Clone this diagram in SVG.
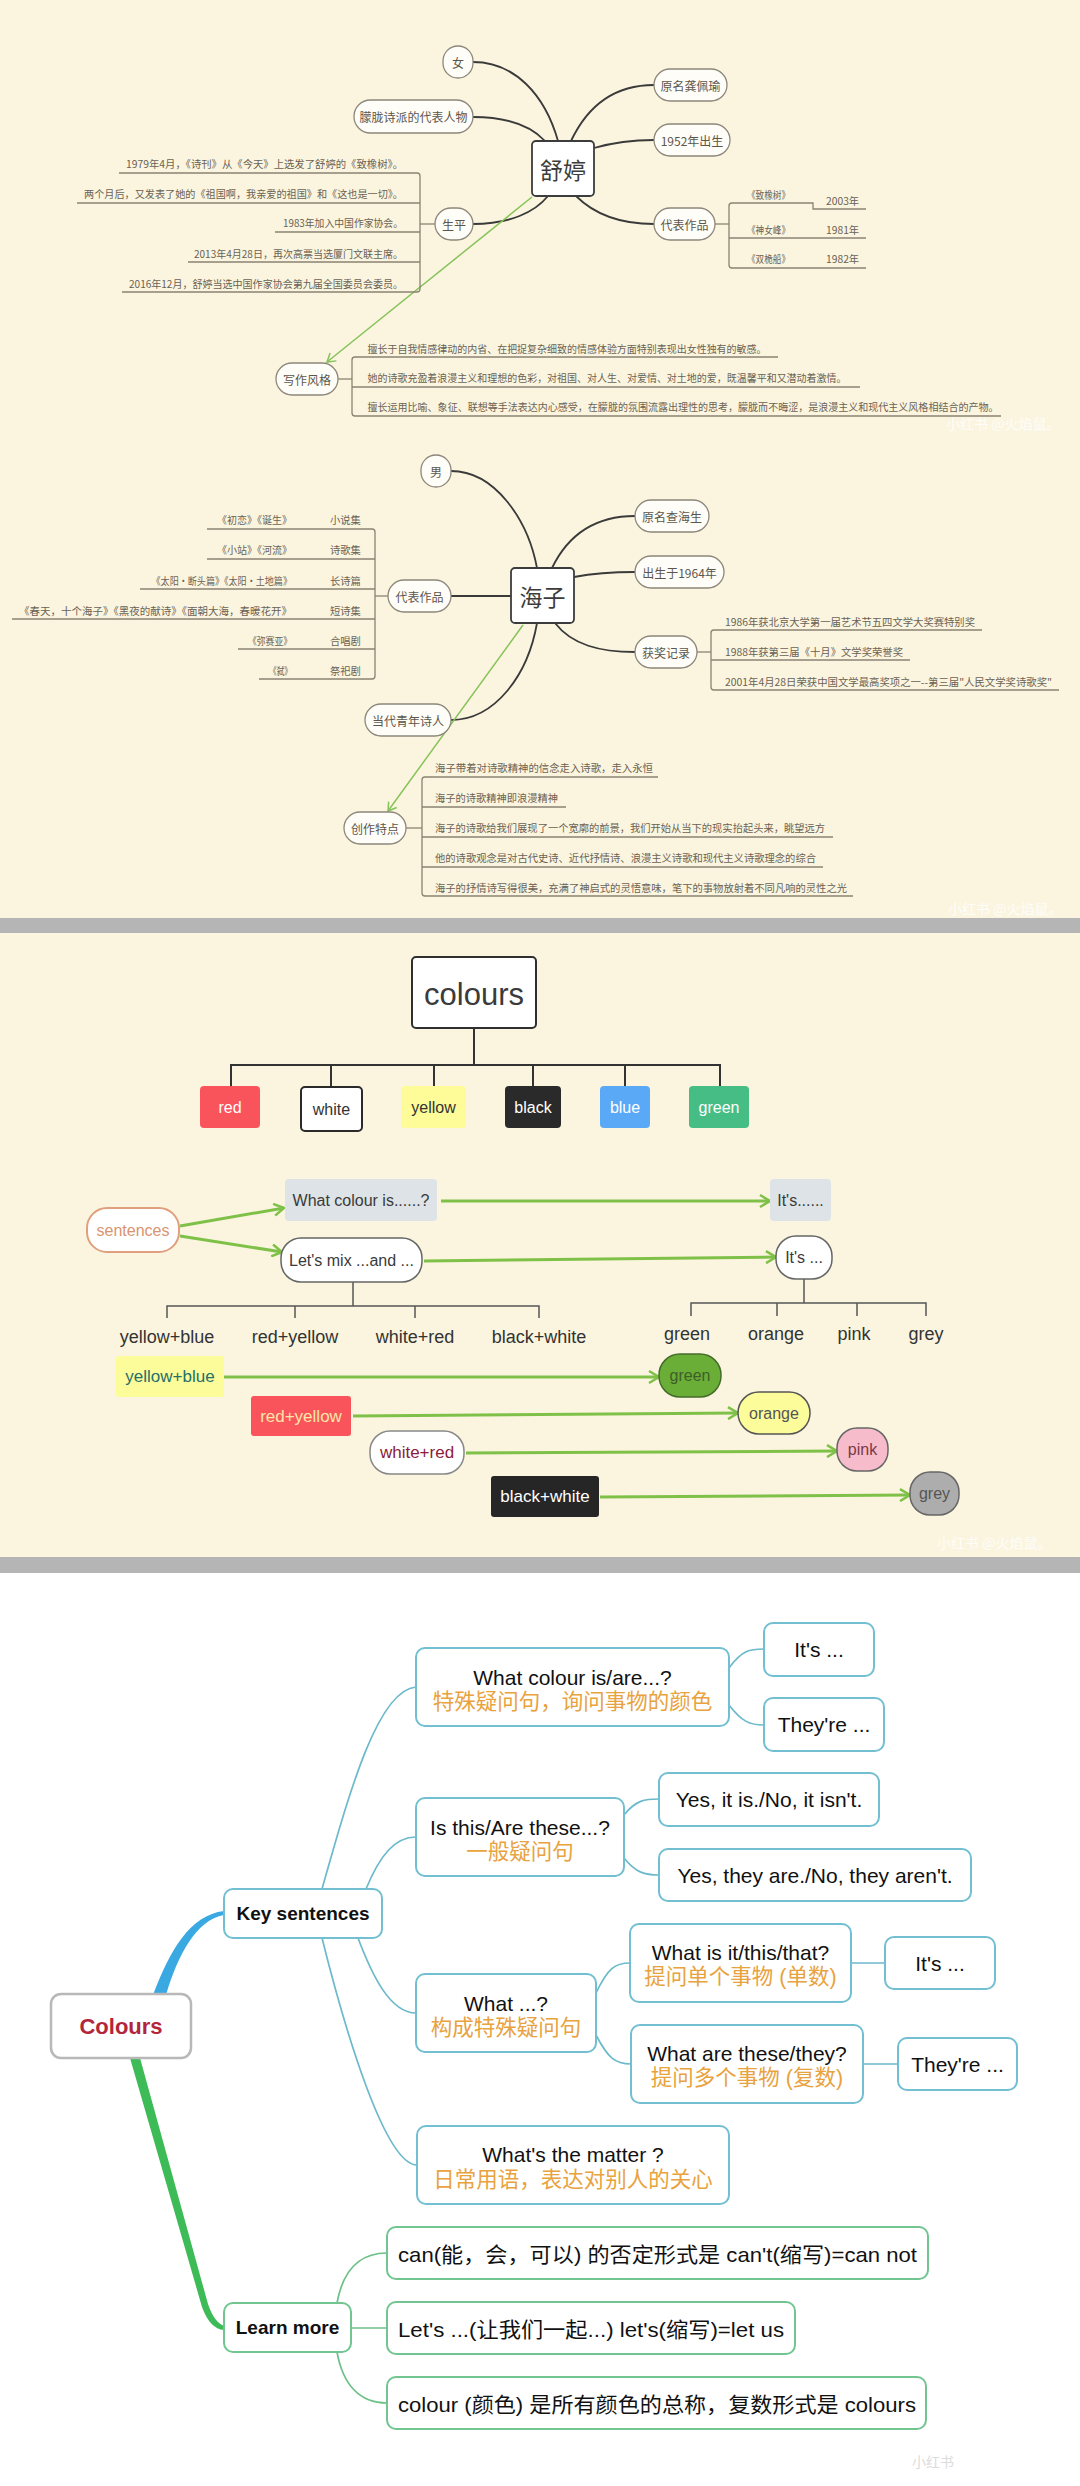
<svg xmlns="http://www.w3.org/2000/svg" width="1080" height="2486" viewBox="0 0 1080 2486">
<defs>
<style>
.cjk{font-family:"Noto Sans CJK SC","Noto Sans",sans-serif}
.lat{font-family:"Liberation Sans","Noto Sans CJK SC",sans-serif}
.pill{fill:#fffdf7;stroke:#8d877b;stroke-width:1.3}
.nt{font-size:12px;fill:#5c564c;text-anchor:middle;dominant-baseline:central}
.st{font-size:10.3px;fill:#6a6254}
.ul{fill:none;stroke:#8b8274;stroke-width:1.3}
.dk{fill:none;stroke:#3a3a3a;stroke-width:1.8}
.g1{fill:none;stroke:#86c25a;stroke-width:1.5}
.g3{fill:none;stroke:#7fc148;stroke-width:3}
.tr{fill:none;stroke:#333;stroke-width:2}
.tr2{fill:none;stroke:#555;stroke-width:1.5}
.c16{font-size:16px;text-anchor:middle;dominant-baseline:central}
.c17{font-size:17px;text-anchor:middle;dominant-baseline:central}
.c18{font-size:18px;fill:#333;text-anchor:middle;dominant-baseline:central}
.mb{fill:#fff;stroke:#72bfd1;stroke-width:2}
.mg{fill:#fff;stroke:#72c590;stroke-width:2}
.cb{fill:none;stroke:#6cb9cc;stroke-width:1.7}
.cg{fill:none;stroke:#6cc088;stroke-width:1.7}
.en{font-size:21px;fill:#111;text-anchor:middle;dominant-baseline:central}
.zh{font-size:21.5px;fill:#e8a23e;text-anchor:middle;dominant-baseline:central}
.wm{font-size:14px;fill:#ffffff;opacity:0.85}
</style>
<marker id="a1" markerUnits="userSpaceOnUse" markerWidth="12" markerHeight="12" refX="10" refY="6" orient="auto" viewBox="0 0 12 12"><path d="M2,1 L10,6 L2,11" fill="none" stroke="#86c25a" stroke-width="1.5"/></marker>
<marker id="a3" markerUnits="userSpaceOnUse" markerWidth="14" markerHeight="14" refX="12" refY="7" orient="auto" viewBox="0 0 14 14"><path d="M2,1 L12,7 L2,13" fill="none" stroke="#7fc148" stroke-width="2.5"/></marker>
</defs>

<!-- backgrounds -->
<rect x="0" y="0" width="1080" height="918" fill="#fbf5df"/>
<rect x="0" y="918" width="1080" height="15" fill="#b5b5b5"/>
<rect x="0" y="933" width="1080" height="624" fill="#fbf5df"/>
<rect x="0" y="1557" width="1080" height="16" fill="#b5b5b5"/>
<rect x="0" y="1573" width="1080" height="913" fill="#ffffff"/>

<!-- connectors -->
<g id="connectors">
  <!-- 舒婷 -->
  <path class="dk" d="M473,62 C515,62 545,95 558,141"/>
  <path class="dk" d="M473,117 C505,117 530,125 545,141"/>
  <path class="dk" d="M473,224 C510,224 535,212 548,196"/>
  <path class="dk" d="M571,141 C588,105 615,85 654,85"/>
  <path class="dk" d="M594,148 C615,142 632,140 654,140"/>
  <path class="dk" d="M576,196 C595,215 620,224 654,224"/>
  <path class="g1" d="M532,197 L327,362" marker-end="url(#a1)"/>
  <path class="ul" d="M420,224 H435"/>
  <path class="ul" d="M119,173 H417 Q420,173 420,176 V289 Q420,292 417,292 H122"/>
  <path class="ul" d="M77,203 H420 M275,232 H420 M188,262 H420"/>
  <path class="ul" d="M715,224 H729"/>
  <path class="ul" d="M866,209 H813 V203 H732 Q729,203 729,206 V265 Q729,268 732,268 H866"/>
  <path class="ul" d="M729,238 H866"/>
  <path class="ul" d="M338,379 H352"/>
  <path class="ul" d="M778,357 H355 Q352,357 352,360 V413 Q352,416 355,416 H1001"/>
  <path class="ul" d="M352,387 H860"/>
  <!-- 海子 -->
  <path class="dk" d="M451,471 C495,471 528,520 537,568"/>
  <path class="dk" d="M451,596 H511"/>
  <path class="dk" d="M451,720 C495,720 528,675 537,623"/>
  <path class="dk" d="M552,568 C568,535 595,516 635,516"/>
  <path class="dk" d="M574,577 C595,573 612,572 635,572"/>
  <path class="dk" d="M555,623 C572,645 600,652 635,652"/>
  <path class="g1" d="M523,625 L388,811" marker-end="url(#a1)"/>
  <path class="ul" d="M375,596 H388"/>
  <path class="ul" d="M207,529 H372 Q375,529 375,532 V676 Q375,679 372,679 H259"/>
  <path class="ul" d="M207,559 H375 M140,589 H375 M12,619 H375 M238,649 H375"/>
  <path class="ul" d="M697,652 H711"/>
  <path class="ul" d="M982,630 H714 Q711,630 711,633 V687 Q711,690 714,690 H1059"/>
  <path class="ul" d="M711,660 H910"/>
  <path class="ul" d="M406,828 H422"/>
  <path class="ul" d="M658,777 H425 Q422,777 422,780 V893 Q422,896 425,896 H853"/>
  <path class="ul" d="M422,807 H566 M422,837 H833 M422,867 H823"/>
  <!-- colours tree -->
  <path class="tr" d="M474,1028 V1065 M231,1086 V1065 H720 V1086 M331,1065 V1087 M434,1065 V1086 M533,1065 V1086 M625,1065 V1086"/>
  <path class="g3" d="M180,1226 L284,1208" marker-end="url(#a3)"/>
  <path class="g3" d="M180,1236 L282,1252" marker-end="url(#a3)"/>
  <path class="g3" d="M441,1201 L770,1201" marker-end="url(#a3)"/>
  <path class="g3" d="M424,1261 L776,1257" marker-end="url(#a3)"/>
  <path class="tr2" d="M353,1282 V1306 M167,1318 V1306 H539 V1318 M295,1306 V1318 M415,1306 V1318"/>
  <path class="tr2" d="M804,1279 V1303 M691,1316 V1303 H926 V1316 M777,1303 V1316 M857,1303 V1316"/>
  <path class="g3" d="M224,1377 L659,1377" marker-end="url(#a3)"/>
  <path class="g3" d="M353,1416 L738,1413" marker-end="url(#a3)"/>
  <path class="g3" d="M466,1453 L837,1451" marker-end="url(#a3)"/>
  <path class="g3" d="M600,1497 L910,1495" marker-end="url(#a3)"/>
  <!-- Colours mind map -->
  <path d="M153,1995 C170,1950 190,1915 224,1911 L224,1915 C196,1920 178,1955 166,1995 Z" fill="#3aa9e2"/>
  <path d="M130,2058 L202,2307 Q210,2329 224,2330 L224,2326 Q214,2322 208,2304 L140,2058 Z" fill="#3dbb57"/>
  <path class="cb" d="M322,1889 C350,1790 378,1690 416,1687"/>
  <path class="cb" d="M366,1889 C380,1855 395,1837 416,1837"/>
  <path class="cb" d="M358,1938 C372,1975 390,2013 416,2013"/>
  <path class="cb" d="M322,1938 C345,2030 385,2165 417,2165"/>
  <path class="cb" d="M729,1668 C742,1650 750,1649 764,1649"/>
  <path class="cb" d="M729,1705 C742,1722 750,1725 764,1725"/>
  <path class="cb" d="M624,1815 C636,1800 645,1799 659,1799"/>
  <path class="cb" d="M624,1858 C636,1873 645,1875 659,1875"/>
  <path class="cb" d="M596,1993 C608,1968 615,1963 630,1963"/>
  <path class="cb" d="M596,2035 C608,2058 615,2064 631,2064"/>
  <path class="cb" d="M851,1963 H885 M863,2064 H898"/>
  <path class="cg" d="M337,2303 C343,2270 360,2253 387,2253"/>
  <path class="cg" d="M351,2328 H387"/>
  <path class="cg" d="M337,2352 C343,2385 360,2403 387,2403"/>
</g>

<!-- ===== 舒婷 ===== -->
<g id="shuting" class="cjk">
  <rect x="532" y="141" width="62" height="55" rx="4" fill="#fff" stroke="#3c3c3c" stroke-width="1.8"/>
  <text x="563" y="169" font-size="23" fill="#3c3c3c" text-anchor="middle" dominant-baseline="central">舒婷</text>
</g>
<g id="st-nv" class="cjk"><rect class="pill" x="443" y="46" width="30" height="32" rx="15"/><text class="nt" x="458" y="62">女</text></g>
<g id="st-menglong" class="cjk"><rect class="pill" x="354" y="100" width="119" height="33" rx="16.5"/><text class="nt" x="413.5" y="116.5">朦胧诗派的代表人物</text></g>
<g id="st-shengping" class="cjk"><rect class="pill" x="435" y="208" width="38" height="32" rx="16"/><text class="nt" x="454" y="224">生平</text></g>
<g id="st-fengge" class="cjk"><rect class="pill" x="276" y="363" width="62" height="32" rx="16"/><text class="nt" x="307" y="379">写作风格</text></g>
<g id="st-yuanming" class="cjk"><rect class="pill" x="654" y="69" width="73" height="32" rx="16"/><text class="nt" x="690.5" y="85">原名龚佩瑜</text></g>
<g id="st-born" class="cjk"><rect class="pill" x="654" y="124" width="76" height="32" rx="16"/><text class="nt" x="692" y="140">1952年出生</text></g>
<g id="st-works" class="cjk"><rect class="pill" x="654" y="208" width="61" height="32" rx="16"/><text class="nt" x="684.5" y="224">代表作品</text></g>
<g id="st-shengping-items" class="cjk st">
  <text x="126" y="168" textLength="277" lengthAdjust="spacingAndGlyphs">1979年4月，《诗刊》从《今天》上选发了舒婷的《致橡树》。</text>
  <text x="84" y="198" textLength="319" lengthAdjust="spacingAndGlyphs">两个月后，又发表了她的《祖国啊，我亲爱的祖国》和《这也是一切》。</text>
  <text x="283" y="227" textLength="120" lengthAdjust="spacingAndGlyphs">1983年加入中国作家协会。</text>
  <text x="194" y="258" textLength="209" lengthAdjust="spacingAndGlyphs">2013年4月28日，再次高票当选厦门文联主席。</text>
  <text x="129" y="288" textLength="274" lengthAdjust="spacingAndGlyphs">2016年12月，舒婷当选中国作家协会第九届全国委员会委员。</text>
</g>
<g id="st-works-items" class="cjk st">
  <text x="747" y="199" textLength="43" lengthAdjust="spacingAndGlyphs">《致橡树》</text>
  <text x="826" y="205">2003年</text>
  <text x="747" y="234" textLength="43" lengthAdjust="spacingAndGlyphs">《神女峰》</text>
  <text x="826" y="234">1981年</text>
  <text x="747" y="263" textLength="43" lengthAdjust="spacingAndGlyphs">《双桅船》</text>
  <text x="826" y="263">1982年</text>
</g>
<g id="st-fengge-items" class="cjk st">
  <text x="367.5" y="353" textLength="399" lengthAdjust="spacingAndGlyphs">擅长于自我情感律动的内省、在把捉复杂细致的情感体验方面特别表现出女性独有的敏感。</text>
  <text x="367.5" y="382" textLength="479" lengthAdjust="spacingAndGlyphs">她的诗歌充盈着浪漫主义和理想的色彩，对祖国、对人生、对爱情、对土地的爱，既温馨平和又潜动着激情。</text>
  <text x="367.5" y="411" textLength="631" lengthAdjust="spacingAndGlyphs">擅长运用比喻、象征、联想等手法表达内心感受，在朦胧的氛围流露出理性的思考，朦胧而不晦涩，是浪漫主义和现代主义风格相结合的产物。</text>
</g>
<text class="cjk wm" x="946" y="429">小红书 @火焰鼠。</text>

<!-- ===== 海子 ===== -->
<g id="haizi" class="cjk">
  <rect x="511" y="568" width="63" height="55" rx="4" fill="#fff" stroke="#3c3c3c" stroke-width="1.8"/>
  <text x="542.5" y="595.5" font-size="23" fill="#3c3c3c" text-anchor="middle" dominant-baseline="central">海子</text>
</g>
<g id="hz-nan" class="cjk"><rect class="pill" x="421" y="455" width="30" height="32" rx="15"/><text class="nt" x="436" y="471">男</text></g>
<g id="hz-works" class="cjk"><rect class="pill" x="388" y="580" width="63" height="32" rx="16"/><text class="nt" x="419.5" y="596">代表作品</text></g>
<g id="hz-poet" class="cjk"><rect class="pill" x="365" y="704" width="86" height="32" rx="16"/><text class="nt" x="408" y="720">当代青年诗人</text></g>
<g id="hz-tedian" class="cjk"><rect class="pill" x="344" y="812" width="62" height="32" rx="16"/><text class="nt" x="375" y="828">创作特点</text></g>
<g id="hz-yuanming" class="cjk"><rect class="pill" x="635" y="500" width="74" height="32" rx="16"/><text class="nt" x="672" y="516">原名查海生</text></g>
<g id="hz-born" class="cjk"><rect class="pill" x="635" y="556" width="89" height="32" rx="16"/><text class="nt" x="679.5" y="572">出生于1964年</text></g>
<g id="hz-award" class="cjk"><rect class="pill" x="635" y="636" width="62" height="32" rx="16"/><text class="nt" x="666" y="652">获奖记录</text></g>
<g id="hz-works-items" class="cjk st">
  <text x="217" y="524" textLength="75" lengthAdjust="spacingAndGlyphs">《初恋》《诞生》</text>
  <text x="217" y="554" textLength="75" lengthAdjust="spacingAndGlyphs">《小站》《河流》</text>
  <text x="151.5" y="585" textLength="140.5" lengthAdjust="spacingAndGlyphs">《太阳·断头篇》《太阳·土地篇》</text>
  <text x="19" y="615" textLength="273" lengthAdjust="spacingAndGlyphs">《春天，十个海子》《黑夜的献诗》《面朝大海，春暖花开》</text>
  <text x="248" y="645" textLength="44" lengthAdjust="spacingAndGlyphs">《弥赛亚》</text>
  <text x="269" y="675" textLength="23" lengthAdjust="spacingAndGlyphs">《弑》</text>
  <text x="330" y="524">小说集</text>
  <text x="330" y="554">诗歌集</text>
  <text x="330" y="585">长诗篇</text>
  <text x="330" y="615">短诗集</text>
  <text x="330" y="645">合唱剧</text>
  <text x="330" y="675">祭祀剧</text>
</g>
<g id="hz-award-items" class="cjk st">
  <text x="725" y="626" textLength="250" lengthAdjust="spacingAndGlyphs">1986年获北京大学第一届艺术节五四文学大奖赛特别奖</text>
  <text x="725" y="656" textLength="178" lengthAdjust="spacingAndGlyphs">1988年获第三届《十月》文学奖荣誉奖</text>
  <text x="725" y="686" textLength="327" lengthAdjust="spacingAndGlyphs">2001年4月28日荣获中国文学最高奖项之一--第三届"人民文学奖诗歌奖"</text>
</g>
<g id="hz-tedian-items" class="cjk st">
  <text x="435" y="772" textLength="218" lengthAdjust="spacingAndGlyphs">海子带着对诗歌精神的信念走入诗歌，走入永恒</text>
  <text x="435" y="802" textLength="123" lengthAdjust="spacingAndGlyphs">海子的诗歌精神即浪漫精神</text>
  <text x="435" y="832" textLength="390" lengthAdjust="spacingAndGlyphs">海子的诗歌给我们展现了一个宽廓的前景，我们开始从当下的现实抬起头来，眺望远方</text>
  <text x="435" y="862" textLength="381" lengthAdjust="spacingAndGlyphs">他的诗歌观念是对古代史诗、近代抒情诗、浪漫主义诗歌和现代主义诗歌理念的综合</text>
  <text x="435" y="892" textLength="412" lengthAdjust="spacingAndGlyphs">海子的抒情诗写得很美，充满了神启式的灵悟意味，笔下的事物放射着不同凡响的灵性之光</text>
</g>
<text class="cjk wm" x="948" y="914">小红书 @火焰鼠。</text>

<!-- ===== colours ===== -->
<g id="colours" class="lat">
  <rect x="412" y="957" width="124" height="71" rx="4" fill="#fff" stroke="#2f2f2f" stroke-width="2"/>
  <text x="474" y="994" font-size="31" fill="#3b3b3b" text-anchor="middle" dominant-baseline="central">colours</text>
</g>
<g id="c-red" class="lat"><rect x="200" y="1086" width="60" height="42" rx="4" fill="#f9545b"/><text class="c16" x="230" y="1107" fill="#fff">red</text></g>
<g id="c-white" class="lat"><rect x="301" y="1087" width="61" height="44" rx="4" fill="#fff" stroke="#2a2a2a" stroke-width="2"/><text class="c16" x="331.5" y="1109" fill="#333">white</text></g>
<g id="c-yellow" class="lat"><rect x="401" y="1086" width="65" height="42" rx="4" fill="#fdfc98"/><text class="c16" x="433.5" y="1107" fill="#333">yellow</text></g>
<g id="c-black" class="lat"><rect x="505" y="1086" width="56" height="42" rx="4" fill="#2a2a2a"/><text class="c16" x="533" y="1107" fill="#fff">black</text></g>
<g id="c-blue" class="lat"><rect x="600" y="1086" width="50" height="42" rx="4" fill="#5aa9f6"/><text class="c16" x="625" y="1107" fill="#fff">blue</text></g>
<g id="c-green" class="lat"><rect x="689" y="1086" width="60" height="42" rx="4" fill="#46bd84"/><text class="c16" x="719" y="1107" fill="#fff">green</text></g>

<g id="sentences" class="lat"><rect x="87" y="1208" width="92" height="44" rx="20" fill="#fff" stroke="#e0a07e" stroke-width="2"/><text class="c16" x="133" y="1230" fill="#d99470">sentences</text></g>
<g id="q-what" class="lat"><rect x="285" y="1179" width="152" height="42" rx="4" fill="#dde3e6"/><text class="c16" x="361" y="1200" fill="#3a3a3a">What colour is......?</text></g>
<g id="a-its1" class="lat"><rect x="770" y="1179" width="61" height="42" rx="4" fill="#dde3e6"/><text class="c16" x="800.5" y="1200" fill="#3a3a3a">It's......</text></g>
<g id="q-mix" class="lat"><rect x="281" y="1238" width="141" height="44" rx="20" fill="#fff" stroke="#666" stroke-width="1.5"/><text class="c16" x="351.5" y="1260" fill="#3a3a3a">Let's mix ...and ...</text></g>
<g id="a-its2" class="lat"><rect x="776" y="1236" width="56" height="43" rx="20" fill="#fff" stroke="#666" stroke-width="1.5"/><text class="c16" x="804" y="1257.5" fill="#3a3a3a">It's ...</text></g>
<g id="mix-labels" class="lat">
  <text class="c18" x="167" y="1337">yellow+blue</text>
  <text class="c18" x="295" y="1337">red+yellow</text>
  <text class="c18" x="415" y="1337">white+red</text>
  <text class="c18" x="539" y="1337">black+white</text>
  <text class="c18" x="687" y="1334">green</text>
  <text class="c18" x="776" y="1334">orange</text>
  <text class="c18" x="854" y="1334">pink</text>
  <text class="c18" x="926" y="1334">grey</text>
</g>
<g id="m-yb" class="lat"><rect x="116" y="1356" width="108" height="41" rx="3" fill="#fdfc9a"/><text class="c17" x="170" y="1376.5" fill="#23706a">yellow+blue</text></g>
<g id="r-green" class="lat"><rect x="659" y="1354" width="62" height="43" rx="21" fill="#6aad37" stroke="#446c2a" stroke-width="1.5"/><text class="c16" x="690" y="1375.5" fill="#3e5f28">green</text></g>
<g id="m-ry" class="lat"><rect x="251" y="1396" width="100" height="40" rx="3" fill="#f9545b"/><text class="c17" x="301" y="1416" fill="#fde6a8">red+yellow</text></g>
<g id="r-orange" class="lat"><rect x="738" y="1392" width="72" height="42" rx="21" fill="#fdfc9a" stroke="#555" stroke-width="1.5"/><text class="c16" x="774" y="1413" fill="#555">orange</text></g>
<g id="m-wr" class="lat"><rect x="370" y="1431" width="94" height="43" rx="20" fill="#fff" stroke="#888" stroke-width="1.5"/><text class="c17" x="417" y="1452.5" fill="#8b1c3d">white+red</text></g>
<g id="r-pink" class="lat"><rect x="837" y="1428" width="51" height="43" rx="20" fill="#f7bccb" stroke="#666" stroke-width="1.5"/><text class="c16" x="862.5" y="1449.5" fill="#7a3a48">pink</text></g>
<g id="m-bw" class="lat"><rect x="491" y="1476" width="108" height="41" rx="3" fill="#262626"/><text class="c17" x="545" y="1496.5" fill="#fff">black+white</text></g>
<g id="r-grey" class="lat"><rect x="910" y="1472" width="49" height="43" rx="20" fill="#adadad" stroke="#666" stroke-width="1.5"/><text class="c16" x="934.5" y="1493.5" fill="#555">grey</text></g>
<text class="cjk wm" x="937" y="1548">小红书 @火焰鼠。</text>

<!-- ===== Colours mind map ===== -->
<g id="root" class="lat"><rect x="51" y="1994" width="140" height="64" rx="10" fill="#fff" stroke="#b8b8b8" stroke-width="2.5"/><text x="121" y="2026" font-size="22" font-weight="bold" fill="#b3253b" text-anchor="middle" dominant-baseline="central">Colours</text></g>
<g id="key" class="lat"><rect class="mb" x="224" y="1889" width="158" height="49" rx="9"/><text x="303" y="1913.5" font-size="19" font-weight="bold" fill="#111" text-anchor="middle" dominant-baseline="central">Key sentences</text></g>
<g id="k1" class="lat"><rect class="mb" x="416" y="1648" width="313" height="78" rx="9"/><text class="en" x="572.5" y="1677">What colour is/are...?</text><text class="zh" x="572.5" y="1702">特殊疑问句，询问事物的颜色</text></g>
<g id="k1a" class="lat"><rect class="mb" x="764" y="1623" width="110" height="53" rx="9"/><text class="en" x="819" y="1649.5">It's ...</text></g>
<g id="k1b" class="lat"><rect class="mb" x="764" y="1698" width="120" height="53" rx="9"/><text class="en" x="824" y="1724.5">They're ...</text></g>
<g id="k2" class="lat"><rect class="mb" x="416" y="1798" width="208" height="78" rx="9"/><text class="en" x="520" y="1827">Is this/Are these...?</text><text class="zh" x="520" y="1852">一般疑问句</text></g>
<g id="k2a" class="lat"><rect class="mb" x="659" y="1773" width="220" height="53" rx="9"/><text class="en" x="769" y="1799.5">Yes, it is./No, it isn't.</text></g>
<g id="k2b" class="lat"><rect class="mb" x="659" y="1849" width="312" height="52" rx="9"/><text class="en" x="815" y="1875">Yes, they are./No, they aren't.</text></g>
<g id="k3" class="lat"><rect class="mb" x="416" y="1974" width="180" height="78" rx="9"/><text class="en" x="506" y="2003">What ...?</text><text class="zh" x="506" y="2028">构成特殊疑问句</text></g>
<g id="k3a" class="lat"><rect class="mb" x="630" y="1924" width="221" height="78" rx="9"/><text class="en" x="740.5" y="1952">What is it/this/that?</text><text class="zh" x="740.5" y="1977">提问单个事物 (单数)</text></g>
<g id="k3a1" class="lat"><rect class="mb" x="885" y="1937" width="110" height="52" rx="9"/><text class="en" x="940" y="1963">It's ...</text></g>
<g id="k3b" class="lat"><rect class="mb" x="631" y="2025" width="232" height="78" rx="9"/><text class="en" x="747" y="2053">What are these/they?</text><text class="zh" x="747" y="2077.5">提问多个事物 (复数)</text></g>
<g id="k3b1" class="lat"><rect class="mb" x="898" y="2038" width="119" height="52" rx="9"/><text class="en" x="957.5" y="2064">They're ...</text></g>
<g id="k4" class="lat"><rect class="mb" x="417" y="2126" width="312" height="78" rx="9"/><text class="en" x="573" y="2154">What's the matter ?</text><text class="zh" x="573" y="2180">日常用语，表达对别人的关心</text></g>
<g id="learn" class="lat"><rect class="mg" x="224" y="2303" width="127" height="49" rx="9"/><text x="287.5" y="2327.5" font-size="19" font-weight="bold" fill="#111" text-anchor="middle" dominant-baseline="central">Learn more</text></g>
<g id="l1" class="lat"><rect class="mg" x="387" y="2227" width="541" height="52" rx="9"/><text x="398" y="2254" font-size="21" fill="#111" dominant-baseline="central" textLength="519" lengthAdjust="spacingAndGlyphs">can(能，会，可以) 的否定形式是 can't(缩写)=can not</text></g>
<g id="l2" class="lat"><rect class="mg" x="387" y="2302" width="408" height="52" rx="9"/><text x="398" y="2329" font-size="21" fill="#111" dominant-baseline="central" textLength="386" lengthAdjust="spacingAndGlyphs">Let's ...(让我们一起...) let's(缩写)=let us</text></g>
<g id="l3" class="lat"><rect class="mg" x="387" y="2377" width="539" height="52" rx="9"/><text x="398" y="2404" font-size="21" fill="#111" dominant-baseline="central" textLength="518" lengthAdjust="spacingAndGlyphs">colour (颜色) 是所有颜色的总称，复数形式是 colours</text></g>
<text class="cjk" x="912" y="2467" font-size="14" fill="#dcdcdc">小红书</text>
</svg>
